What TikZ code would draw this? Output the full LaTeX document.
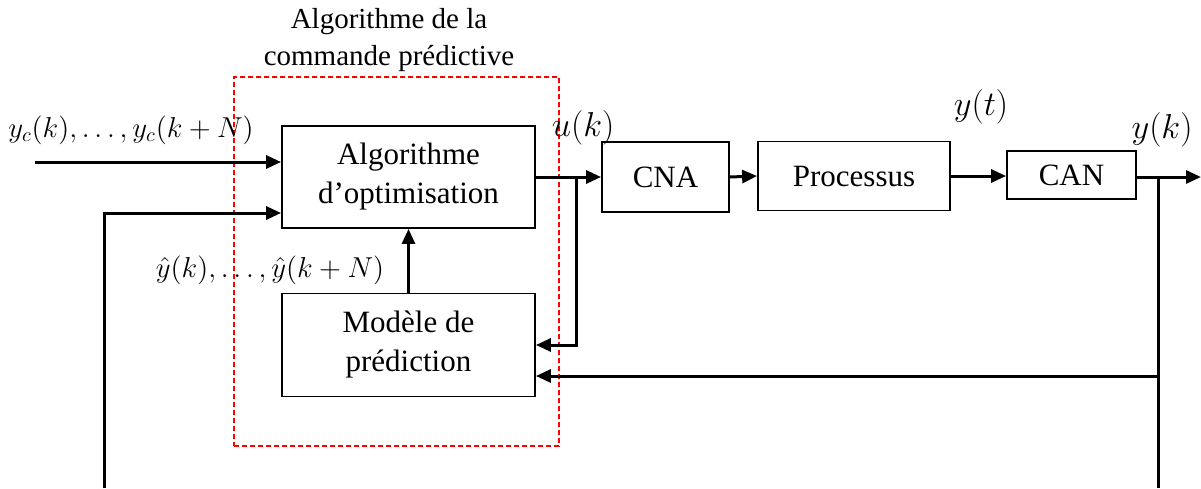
\documentclass[tikz,border=0pt]{standalone}
\usepackage[no-math]{fontspec}
\setmainfont{Liberation Serif}
\usetikzlibrary{arrows.meta,calc}
\begin{document}
\begin{tikzpicture}[x=0.5pt,y=-0.5pt,
  blk/.style={draw,line width=0.9pt,minimum width=#1,inner sep=0pt,align=center,font=\fontsize{15.5}{19.5}\selectfont},
  arr/.style={line width=1.5pt,-{Triangle[length=7.5pt,width=6.5pt]}},
  ln/.style={line width=1.5pt},
  lab/.style={font=\fontsize{16.5}{20}\selectfont,inner sep=0pt},
  labs/.style={font=\fontsize{14.2}{18}\selectfont,inner sep=0pt}]
\useasboundingbox (0,0) rectangle (1201,488);
% dashed group
\node[draw=red,dashed,dash pattern=on 2.5pt off 1.5pt,line width=0.6pt,minimum width=162.5pt,minimum height=184.5pt,inner sep=0pt] (alg) at (396.5,261.5) {};
\node[align=center,font=\fontsize{14.5}{18.5}\selectfont,inner sep=0pt] (algt) at (389,40) {Algorithme de la\\commande prédictive};
% blocks
\node[blk=126.5pt,minimum height=51pt] (opt) at (408.5,177) {Algorithme\\d’optimisation};
\node[blk=126.5pt,minimum height=51.5pt] (mod) at (408.5,345) {Modèle de\\prédiction};
\node[blk=63.5pt,minimum height=35pt] (cna) at (665.5,177) {CNA};
\node[blk=96pt,minimum height=34.5pt] (proc) at (854,176) {Processus};
\node[blk=64.5pt,minimum height=24pt] (can) at (1071.5,175) {CAN};
% coordinates
\coordinate (yin) at (35,162);
\coordinate (fb0) at (104,488);
\coordinate (fbin) at (104,213);
\coordinate (ub) at (576,177);
\coordinate (yb) at (1158,177);
\coordinate (fbend) at (1158,488);
\coordinate (fbr) at (1158,376);
\coordinate (out) at (1201,177);
% connectors
\draw[arr] (yin) -- (yin -| opt.west);
\draw[arr] (fb0) -- (fbin) -- (fbin -| opt.west);
\draw[arr] (opt.east) -- (cna.west);
\draw[arr] (ub) |- (mod.east);
\draw[arr] (mod.north) -- (opt.south);
\draw[arr] (cna.east) -- (proc.west);
\draw[arr] (proc.east) -- (proc.east -| can.west);
\draw[arr] (can.east |- out) -- (out);
\draw[ln] (yb) -- (fbend);
\draw[arr] (fbr) -- (fbr -| mod.east);
% labels
\node[labs] (lyc) at (131,130) {$y_c(k),\ldots,y_c(k+N)$};
\node[labs] (lyh) at (270,270) {$\hat{y}(k),\ldots,\hat{y}(k+N)$};
\node[lab] (lu) at (583,128) {$u(k)$};
\node[lab] (lyt) at (981,107) {$y(t)$};
\node[lab] (lyk) at (1162,130) {$y(k)$};
\end{tikzpicture}
\end{document}
